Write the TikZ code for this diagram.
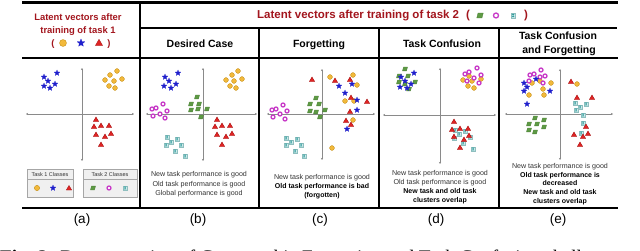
\documentclass[tikz,border=0pt]{standalone}
\usepackage{fontspec}
\setmainfont{Liberation Sans}
\newfontfamily\capfont{Liberation Serif}
\usetikzlibrary{arrows.meta}
\definecolor{tred}{HTML}{A3161E}
\definecolor{cyel}{HTML}{F2B93B}
\definecolor{cyeld}{HTML}{C7921C}
\definecolor{cblue}{HTML}{1F1FCC}
\definecolor{cred}{HTML}{E02424}
\definecolor{credd}{HTML}{A01010}
\definecolor{cgrn}{HTML}{5E9A45}
\definecolor{cgrnd}{HTML}{4A7F35}
\definecolor{cmag}{HTML}{C83CC8}
\definecolor{cboxf}{HTML}{D2ECEC}
\definecolor{cboxd}{HTML}{8FBFBF}
\definecolor{cteal}{HTML}{2E9C9C}
\definecolor{axgray}{HTML}{8A8A8A}
\definecolor{txtgray}{HTML}{333333}
\newcommand\mkCirc[3][1]{\begin{scope}[shift={(#2,#3)},scale=#1]\filldraw[fill=cyel,draw=cyeld,line width=0.4pt] (0,0) circle[radius=2.4];\end{scope}}
\newcommand\mkStar[3][1]{\begin{scope}[shift={(#2,#3)},scale=#1]\filldraw[fill=cblue,draw=cblue,line width=0.2pt,line join=round] (-90:3.0) -- (-54:1.3) -- (-18:3.0) -- (18:1.3) -- (54:3.0) -- (90:1.3) -- (126:3.0) -- (162:1.3) -- (198:3.0) -- (234:1.3) -- cycle;\end{scope}}
\newcommand\mkTri[3][1]{\begin{scope}[shift={(#2,#3)},scale=#1]\filldraw[fill=cred,draw=credd,line width=0.3pt,line join=round] (-90:3.1) -- (30:3.1) -- (150:3.1) -- cycle;\end{scope}}
\newcommand\mkPar[3][1]{\begin{scope}[shift={(#2,#3)},scale=#1]\filldraw[fill=cgrn,draw=cgrnd,line width=0.3pt] (-1.5,-1.9) -- (2.5,-1.9) -- (1.5,1.9) -- (-2.5,1.9) -- cycle;\end{scope}}
\newcommand\mkRing[3][1]{\begin{scope}[shift={(#2,#3)},scale=#1]\filldraw[fill=white,draw=cmag,line width=1.3pt] (0,0) circle[radius=2.0];\end{scope}}
\newcommand\mkBox[3][1]{\begin{scope}[shift={(#2,#3)},scale=#1]\filldraw[fill=cboxf,draw=cboxd,line width=0.3pt] (-2.1,-2.1) rectangle (2.1,2.1);\fill[cteal] (-1.4,-1.4) -- (1.4,-1.4) -- (-1.4,1.4) -- (1.4,1.4) -- cycle;\end{scope}}
\begin{document}
\begin{tikzpicture}[x=1pt,y=-1pt,
  thickrule/.style={line width=2.6pt,line cap=rect},
  midrule/.style={line width=1.6pt},
  axis/.style={axgray,line width=0.8pt,{Stealth[length=2.2pt,width=2.2pt]}-{Stealth[length=2.2pt,width=2.2pt]}},
  redtitle/.style={font=\fontsize{11.5}{13}\selectfont\bfseries,text=tred,anchor=base,inner sep=0},
  redtitlea/.style={font=\fontsize{9.4}{11}\selectfont\bfseries,text=tred,anchor=base,inner sep=0},
  subhdr/.style={font=\fontsize{10.5}{12}\selectfont\bfseries,anchor=base,inner sep=0},
  bodytxt/.style={font=\fontsize{7.1}{8}\selectfont,text=txtgray,anchor=base,inner sep=0},
  bodybold/.style={font=\fontsize{7}{8}\selectfont\bfseries,text=black,anchor=base,inner sep=0},
  lbl/.style={font=\fontsize{13.5}{15}\selectfont,anchor=base,inner sep=0},
  legtxt/.style={font=\fontsize{5.5}{6}\selectfont,text=txtgray,anchor=base,inner sep=0},
  legbox/.style={fill=black!6,draw=black!35,line width=0.5pt}
]
\useasboundingbox (0,0) rectangle (640,251);
\clip (0,0) rectangle (640,251);
\fill[white] (0,0) rectangle (640,251);

% frame rules
\draw[thickrule] (23,2.5) -- (617,2.5);
\draw[thickrule] (23,58) -- (617,58);
\draw[thickrule] (23,208) -- (617,208);
\draw[midrule] (140,28) -- (617,28);
\draw[line width=2.2pt] (140,2) -- (140,208);
\draw[midrule] (259,28) -- (259,208);
\draw[midrule] (379,28) -- (379,208);
\draw[midrule] (499,28) -- (499,208);

% titles
\node[redtitlea] (ta1) at (78,20.4) {Latent vectors after};
\node[redtitlea] (ta2) at (78,33.4) {training of task 1};
\node[redtitlea] (tap1) at (53,46.4) {(};
\node[redtitlea] (tap2) at (109,46.4) {)};
\mkCirc[1.45]{63}{43}
\mkStar[1.35]{81}{43}
\mkTri[1.35]{99}{43.5}

\node[redtitle,anchor=base west] (tb) at (257,19) {Latent vectors after training of task 2};
\node[redtitle] (tbp1) at (468,19) {(};
\node[redtitle] (tbp2) at (526,19) {)};
\mkPar[1.3]{480}{15.5}
\mkRing[1.25]{496}{15.5}
\mkBox[1.1]{513}{15.5}

\node[subhdr] (h1) at (200,47.8) {Desired Case};
\node[subhdr] (h2) at (319,47.8) {Forgetting};
\node[subhdr] (h3) at (442,47.8) {Task Confusion};
\node[subhdr] (h4a) at (558,40) {Task Confusion};
\node[subhdr] (h4b) at (559,53.8) {and Forgetting};

% axes
\draw[axis] (82,68) -- (82,161);
\draw[axis] (26,114) -- (134,114);
\draw[axis] (203,68) -- (203,161);
\draw[axis] (146,114) -- (257,114);
\draw[axis] (322,69) -- (322,160);
\draw[axis] (267,114) -- (375,114);
\draw[axis] (440,68) -- (440,164);
\draw[axis] (383,115) -- (496,115);
\draw[axis] (560,69) -- (560,160);
\draw[axis] (505,114) -- (613,114);

% panel (a)
\foreach \x/\y in {57/73,44/77,48/81,55/84,44/86,50/88} {\mkStar{\x}{\y}}
\foreach \x/\y in {117/71,110/75,105/80,114/81,122/79,109/86,115/88} {\mkCirc{\x}{\y}}
\foreach \x/\y in {96/120,94/127,101/126,109/126,96/135,111/134,105/137,101/145} {\mkTri{\x}{\y}}

% legend
\draw[legbox] (27,169) rectangle (73,197);
\draw[black!35,line width=0.5pt] (27,179) -- (73,179);
\node[legtxt] (lg1) at (50,176) {Task 1 Classes};
\mkCirc[1.1]{37}{188}
\mkStar[1.0]{53}{188}
\mkTri[1.0]{69}{188.5}
\draw[legbox] (83,169) rectangle (137,197);
\draw[black!35,line width=0.5pt] (83,179) -- (137,179);
\node[legtxt] (lg2) at (110,176) {Task 2 Classes};
\mkPar{93}{188}
\mkRing{109}{188}
\mkBox{125}{188}

% panel (b)
\foreach \x/\y in {165/77,178/73,169/81,176/84,164/86,171/88} {\mkStar{\x}{\y}}
\foreach \x/\y in {232/75,238/71,226/80,234/81,242/79,230/86,236/88} {\mkCirc{\x}{\y}}
\foreach \x/\y in {197/97,191/104,199/104,191/110,198/109,207/109,201/117} {\mkPar{\x}{\y}}
\foreach \x/\y in {163/104,156/108,152/109,167/111,160/114,153/116,165/118} {\mkRing{\x}{\y}}
\foreach \x/\y in {217/120,215/127,222/126,230/126,217/135,232/134,226/137,222/145} {\mkTri{\x}{\y}}
\foreach \x/\y in {167/137,177/139,171/142,166/145,181/145,175/151,185/156} {\mkBox{\x}{\y}}

% panel (c)
\foreach \x/\y in {316/98,310/104,319/104,310/111,316/112,325/110,320/117} {\mkPar{\x}{\y}}
\foreach \x/\y in {272/110,276/109,283/105,287/111,280/114,273/117,285/119} {\mkRing{\x}{\y}}
\foreach \x/\y in {286/138,291/142,297/139,286/145,301/145,295/151,304/156} {\mkBox{\x}{\y}}
\foreach \x/\y in {330/77,353/75,357/85,345/101,354/101,353/120,332/148} {\mkCirc{\x}{\y}}
\foreach \x/\y in {339/86,352/84,345/93,357/100,357/110,347/129} {\mkStar{\x}{\y}}
\foreach \x/\y in {312/80,335/81,350/80,351/98,367/102,350/112,346/121,351/125} {\mkTri{\x}{\y}}

% panel (d)
\foreach \x/\y in {405/69,399/76,408/76,399/82,405/84,415/82,409/89} {\mkPar{\x}{\y}}
\foreach \x/\y in {414/73,401/77,405/81,411/84,400/87,407/88} {\mkStar{\x}{\y}}
\foreach \x/\y in {469/76,463/80,472/81,481/79,468/86,474/88} {\mkCirc{\x}{\y}}
\foreach \x/\y in {477/68,469/72,465/74,474/78,481/75,467/81,479/83} {\mkRing{\x}{\y}}
\foreach \x/\y in {455/130,459/134,465/131,470/137,454/138,463/143,473/149} {\mkBox{\x}{\y}}
\foreach \x/\y in {454/122,452/130,460/129,468/129,469/136,454/137,464/140,460/148} {\mkTri{\x}{\y}}

% panel (e)
\foreach \x/\y in {532/83,540/81,551/83,543/89,529/95,544/95,577/84} {\mkCirc{\x}{\y}}
\foreach \x/\y in {541/70,530/75,534/74,540/77,545/76,529/81,543/83} {\mkRing{\x}{\y}}
\foreach \x/\y in {536/79,524/83,527/87,524/91,550/91,527/104} {\mkStar{\x}{\y}}
\foreach \x/\y in {535/118,544/120,529/124,537/124,544/127,529/130,535/132} {\mkPar{\x}{\y}}
\foreach \x/\y in {575/103,580/107,586/104,576/110,583/115,583/123,581/133} {\mkBox{\x}{\y}}
\foreach \x/\y in {571/82,577/98,592/98,586/127,588/134,574/135,583/137,580/145} {\mkTri{\x}{\y}}

% body texts
\node[bodytxt] (b1) at (199,176.8) {New task performance is good};
\node[bodytxt] (b2) at (199,186) {Old task performance is good};
\node[bodytxt] (b3) at (199,195.3) {Global performance is good};

\node[bodytxt] (c1) at (322,179.8) {New task performance is good};
\node[bodybold] (c2) at (322,188.6) {Old task performance is bad};
\node[bodybold] (c3) at (322,197.8) {(forgotten)};

\node[bodytxt] (d1) at (440,175.2) {New task performance is good};
\node[bodytxt] (d2) at (440,184.2) {Old task performance is good};
\node[bodybold] (d3) at (440,193.5) {New task and old task};
\node[bodybold] (d4) at (440,202.5) {clusters overlap};

\node[bodytxt] (e1) at (560,168.5) {New task performance is good};
\node[bodybold] (e2) at (560,177.5) {Old task performance is};
\node[bodybold] (e3) at (560,185.8) {decreased};
\node[bodybold] (e4) at (560,194.8) {New task and old task};
\node[bodybold] (e5) at (560,203.2) {clusters overlap};

% labels
\node[lbl] (la) at (82,223) {(a)};
\node[lbl] (lb) at (198,223) {(b)};
\node[lbl] (lc) at (320,223) {(c)};
\node[lbl] (ld) at (436,223) {(d)};
\node[lbl] (le) at (558,223) {(e)};

% caption (cut off)
\node[anchor=base west,inner sep=0,font=\capfont\fontsize{19.2}{21}\selectfont] (cap) at (0,263.3) {\textbf{Fig. 2:} Demonstration of Catastrophic Forgetting and Task Confusion challenges};
\end{tikzpicture}
\end{document}
